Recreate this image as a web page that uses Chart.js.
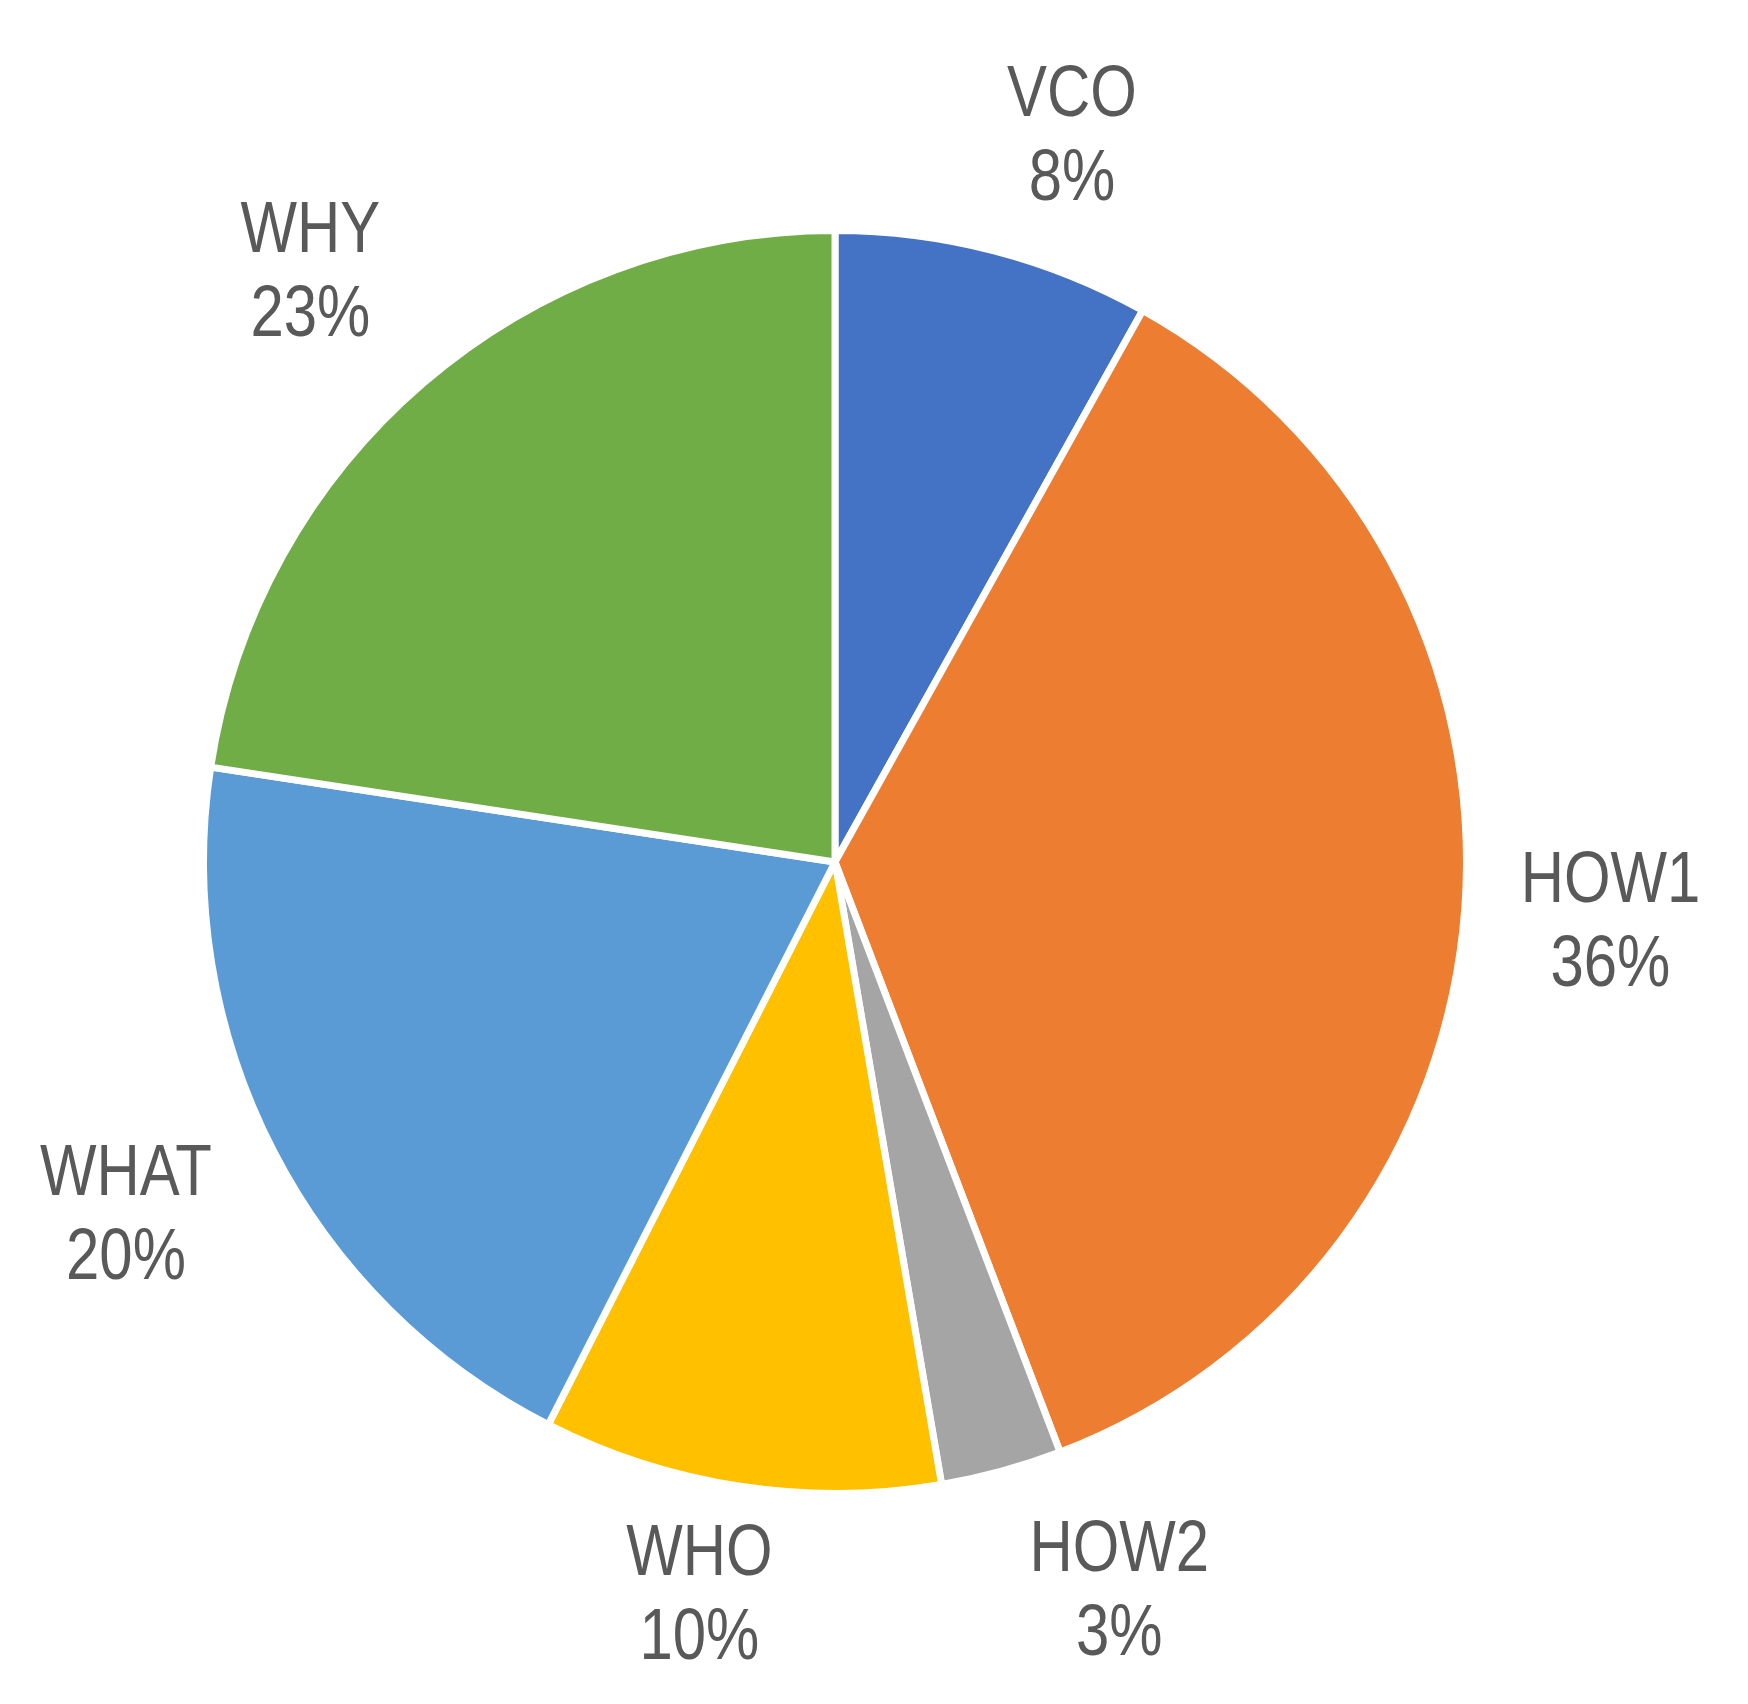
<!DOCTYPE html>
<html lang="en">
<head>
    <meta charset="UTF-8">
    <title>Pie</title>
    <script src="https://cdn.jsdelivr.net/npm/chart.js"></script>
    <style>
        html, body { margin: 0; padding: 0; background: #fff; }
        #wrap { width: 1748px; height: 1704px; position: relative; }
    </style>
</head>
<body>
    <div id="wrap"><canvas id="pieChart"></canvas></div>

    <script>
        // data
        const categories = ['VCO', 'HOW1', 'HOW2', 'WHO', 'WHAT', 'WHY'];
        const shares = [8.1, 36.1, 3.1, 10.2, 19.9, 22.6];
        const sliceColors = ['#4472C4', '#ED7D31', '#A5A5A5', '#FFC000', '#5B9BD5', '#70AD47'];

        // label layout tweaks (Excel "best fit" is not quite radial)
        const labelNudge = [3.4, 0, -6.1, 1.9, 1.0, -0.8];   // degrees
        const labelPull = [0, 0, 0, -22, 0, 12];             // px along the radius

        const BORDER = 7;
        const LABEL_FONT = '73px "Liberation Sans", sans-serif';
        const SQUEEZE = 0.82;   // narrow look of the original font
        const LINE_GAP = 84;

        function narrowText(ctx, text, x, y) {
            ctx.save();
            ctx.translate(x, y);
            ctx.scale(SQUEEZE, 1);
            ctx.fillText(text, 0, 0);
            ctx.restore();
        }

        // draws "name / xx%" outside each slice
        const outsideLabels = {
            id: 'outsideLabels',
            afterDraw(chart) {
                const ctx = chart.ctx;
                const meta = chart.getDatasetMeta(0);
                const total = shares.reduce((a, b) => a + b, 0);
                ctx.save();
                ctx.font = LABEL_FONT;
                ctx.fillStyle = '#595959';
                ctx.textAlign = 'center';
                ctx.textBaseline = 'alphabetic';
                meta.data.forEach((arc, i) => {
                    const p = arc.getProps(['x', 'y', 'startAngle', 'endAngle', 'outerRadius'], true);
                    const a = (p.startAngle + p.endAngle) / 2 + labelNudge[i] * Math.PI / 180;
                    const line1 = categories[i];
                    const line2 = Math.round(shares[i] / total * 100) + '%';
                    const hw = SQUEEZE * Math.max(ctx.measureText(line1).width, ctx.measureText(line2).width) / 2;
                    const hh = 68;
                    const support = hw * Math.abs(Math.cos(a)) + hh * Math.abs(Math.sin(a));
                    const d = p.outerRadius - BORDER / 2 + 55 + support + labelPull[i];
                    const cx = p.x + d * Math.cos(a);
                    const cy = p.y + d * Math.sin(a);
                    narrowText(ctx, line1, cx, cy - 16);
                    narrowText(ctx, line2, cx, cy - 16 + LINE_GAP);
                });
                ctx.restore();
            }
        };

        const ctx = document.getElementById('pieChart').getContext('2d');
        const pieChart = new Chart(ctx, {
            type: 'pie',
            data: {
                labels: categories,
                datasets: [{
                    data: shares,
                    backgroundColor: sliceColors,
                    borderColor: '#ffffff',
                    borderWidth: BORDER
                }]
            },
            options: {
                responsive: true,
                maintainAspectRatio: false,
                animation: false,
                layout: {
                    padding: { left: 200, right: 278, top: 227, bottom: 207 }
                },
                plugins: {
                    legend: { display: false },
                    tooltip: { enabled: false }
                }
            },
            plugins: [outsideLabels]
        });
    </script>
</body>
</html>
